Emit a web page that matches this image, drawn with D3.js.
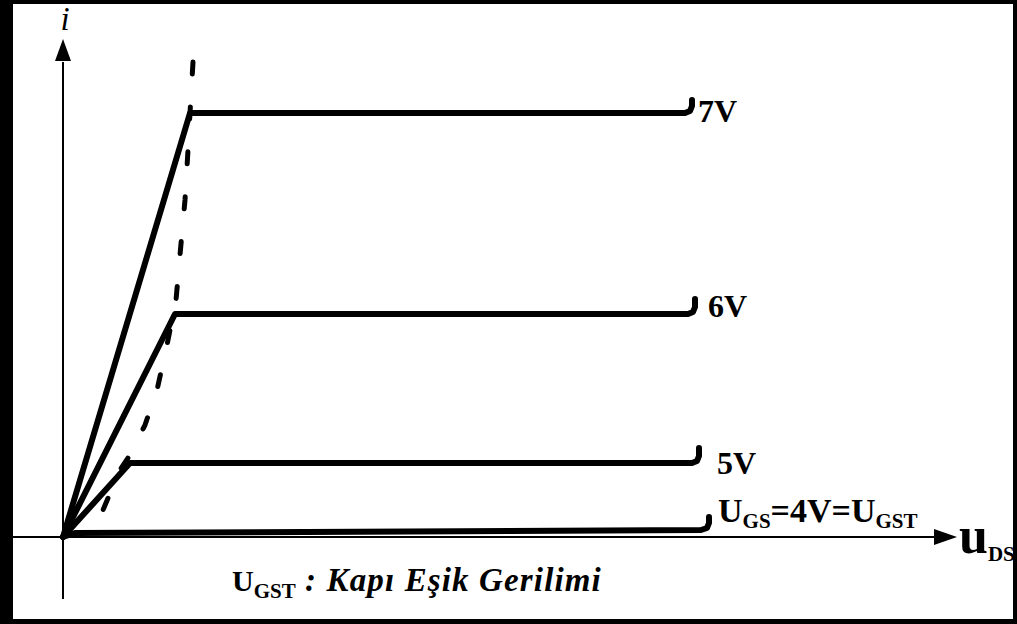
<!DOCTYPE html>
<html>
<head>
<meta charset="utf-8">
<script src="https://cdn.jsdelivr.net/npm/d3@7"></script>
<style>
  html, body { margin: 0; padding: 0; background: #fff; }
  svg { display: block; }
  text { font-family: "Liberation Serif", "Times New Roman", serif; fill: #000; }
</style>
</head>
<body>
<div id="chart"></div>
<script>
// gate voltage curves (u_DS, i) in arbitrary units
var curveNames = ["7V", "6V", "5V", "4V"];
var curve7V = [[0, 0], [1.27, 4.24], [6.22, 4.24], [6.27, 4.26], [6.29, 4.31], [6.29, 4.37]];
var curve6V = [[0, 0], [1.12, 2.23], [6.25, 2.23], [6.30, 2.25], [6.32, 2.30], [6.32, 2.38]];
var curve5V = [[0, 0], [0.67, 0.74], [6.29, 0.74], [6.34, 0.76], [6.36, 0.81], [6.36, 0.89]];
var curve4V = [[0, 0], [0.12, 0.04], [6.38, 0.07], [6.44, 0.09], [6.46, 0.14], [6.46, 0.20]];
// saturation boundary (dashed), from top to bottom
var boundary = [[1.30, 4.75], [1.27, 4.24], [1.25, 3.87], [1.22, 3.37], [1.17, 2.82], [1.13, 2.37],
                [1.04, 1.92], [0.94, 1.47], [0.82, 1.12], [0.67, 0.82], [0.57, 0.67], [0.40, 0.27], [0.29, 0.07]];

var width = 1017, height = 624;
var svg = d3.select("#chart").append("svg").attr("width", width).attr("height", height);

// 100 px per unit, origin at (63, 537)
var x = d3.scaleLinear().domain([0, 9]).range([63, 963]);
var y = d3.scaleLinear().domain([0, 5]).range([537, 37]);

// frame
svg.append("rect").attr("x", 0).attr("y", 0).attr("width", 13).attr("height", height);
svg.append("rect").attr("x", 0).attr("y", 0).attr("width", width).attr("height", 4);
svg.append("rect").attr("x", 1013).attr("y", 0).attr("width", 4).attr("height", height);
svg.append("rect").attr("x", 0).attr("y", 619).attr("width", width).attr("height", 5);

// axes
svg.append("line").attr("x1", x(0)).attr("x2", x(0)).attr("y1", y(-0.62)).attr("y2", y(4.75))
  .attr("stroke", "#000").attr("stroke-width", 2);
svg.append("path").attr("d", "M" + x(0) + "," + y(4.98) + "L" + (x(0) - 8) + "," + y(4.76) + "L" + (x(0) + 8) + "," + y(4.76) + "Z");
svg.append("line").attr("x1", 13).attr("x2", x(8.75)).attr("y1", y(0)).attr("y2", y(0))
  .attr("stroke", "#000").attr("stroke-width", 2);
svg.append("path").attr("d", "M" + x(8.94) + "," + y(0) + "L" + x(8.71) + "," + (y(0) - 8) + "L" + x(8.71) + "," + (y(0) + 8) + "Z");

svg.append("text").attr("x", x(0) + 2).attr("y", 30).attr("text-anchor", "middle")
  .style("font-size", "33px").style("font-style", "italic").text("i");

var ul = svg.append("text").attr("x", x(8.96)).attr("y", 553).style("font-weight", "bold");
ul.append("tspan").style("font-size", "52px").text("u");
ul.append("tspan").attr("dy", 8).style("font-size", "21px").text("DS");

// curves
var line = d3.line().x(function(d) { return x(d[0]); }).y(function(d) { return y(d[1]); });
var curves = [curve7V, curve6V, curve5V, curve4V];
svg.selectAll(".curve").data(curves).enter().append("path").attr("class", "curve")
  .attr("d", line).attr("fill", "none").attr("stroke", "#000").attr("stroke-width", 6)
  .attr("stroke-linejoin", "round").attr("stroke-linecap", "round");

svg.append("path").attr("d", line(boundary)).attr("fill", "none").attr("stroke", "#000")
  .attr("stroke-width", 5).attr("stroke-linecap", "round").attr("stroke-dasharray", "12,33");

// curve labels
var labelPos = [[6.35, 4.15], [6.45, 2.20], [6.54, 0.63]];
for (var k = 0; k < 3; k++) {
  svg.append("text").attr("x", x(labelPos[k][0])).attr("y", y(labelPos[k][1]))
    .style("font-size", "32px").style("font-weight", "bold").text(curveNames[k]);
}
var l4 = svg.append("text").attr("x", x(6.55)).attr("y", 522).style("font-weight", "bold");
l4.append("tspan").style("font-size", "34px").text("U");
l4.append("tspan").attr("dy", 6).style("font-size", "21px").text("GS");
l4.append("tspan").attr("dy", -6).style("font-size", "34px").text("=4V=U");
l4.append("tspan").attr("dy", 6).style("font-size", "21px").text("GST");

// footnote
var note = svg.append("text").attr("x", 232).attr("y", 591).style("font-weight", "bold");
note.append("tspan").style("font-size", "30px").text("U");
note.append("tspan").attr("dy", 7).style("font-size", "21px").text("GST");
note.append("tspan").attr("dy", -7).style("font-size", "33px").style("font-style", "italic")
  .attr("textLength", 305).text(" : Kapı Eşik Gerilimi");
</script>
</body>
</html>
